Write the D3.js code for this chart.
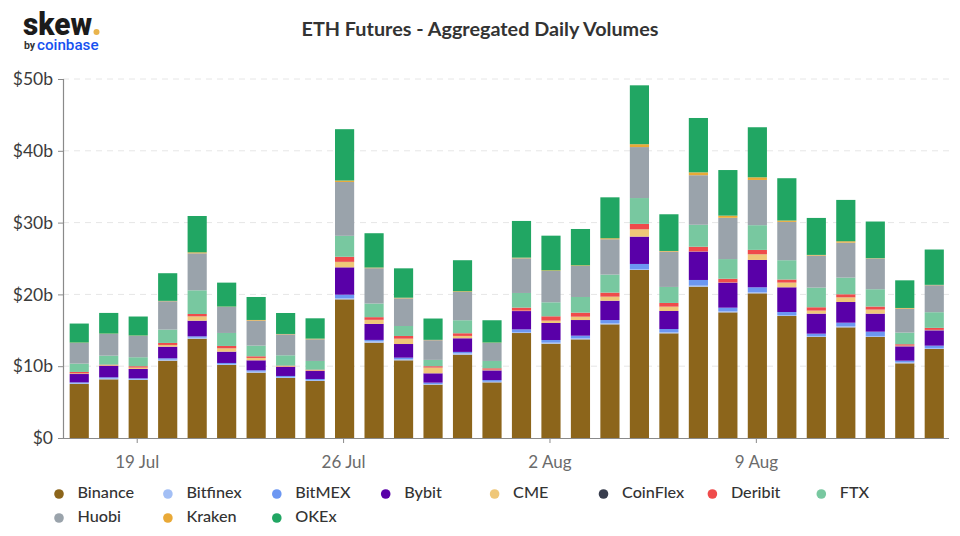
<!DOCTYPE html>
<html>
<head>
<meta charset="utf-8">
<script src="https://cdn.jsdelivr.net/npm/d3@7"></script>
<style>
  html, body { margin: 0; padding: 0; background: #fff; }
  svg { display: block; font-family: Lato, sans-serif; }
</style>
</head>
<body>
<div id="chart"></div>
<script>
// Daily volumes in $b, one entry per day from 17 Jul to 15 Aug
const binance = [7.52, 8.17, 8.08, 10.77, 13.83, 10.17, 9.1, 8.36, 7.94, 19.31, 13.28, 10.82, 7.43, 11.61, 7.75, 14.62, 13.14, 13.74, 15.83, 23.4, 14.58, 21.08, 17.5, 20.15, 16.99, 14.07, 15.41, 14.07, 10.4, 12.4]
const bitfinex = [0.09, 0.14, 0.09, 0.14, 0.14, 0.14, 0.14, 0.14, 0.14, 0.14, 0.19, 0.14, 0.09, 0.19, 0.09, 0.14, 0.14, 0.14, 0.14, 0.14, 0.14, 0.14, 0.14, 0.14, 0.14, 0.14, 0.14, 0.14, 0.14, 0.14]
const bitmex = [0.14, 0.14, 0.14, 0.19, 0.19, 0.14, 0.19, 0.14, 0.14, 0.51, 0.19, 0.23, 0.19, 0.19, 0.23, 0.37, 0.37, 0.37, 0.46, 0.7, 0.46, 0.79, 0.51, 0.7, 0.42, 0.32, 0.51, 0.6, 0.23, 0.32]
const bybit = [1.16, 1.58, 1.3, 1.62, 2.18, 1.58, 1.39, 1.25, 1.11, 3.81, 2.23, 1.9, 1.3, 1.9, 1.35, 2.55, 2.37, 2.18, 2.69, 3.81, 2.51, 3.95, 3.48, 3.81, 3.44, 2.79, 2.88, 2.51, 2.0, 2.14]
const cme = [0.09, 0.09, 0.19, 0.23, 0.6, 0.46, 0.32, 0.09, 0.09, 0.74, 0.56, 0.74, 0.79, 0.32, 0.09, 0.05, 0.32, 0.46, 0.56, 1.02, 0.6, 0.02, 0.03, 0.79, 0.65, 0.42, 0.65, 0.56, 0.09, 0.05]
const coinflex = [0.01, 0.01, 0.01, 0.01, 0.01, 0.01, 0.01, 0.01, 0.01, 0.03, 0.01, 0.01, 0.01, 0.01, 0.01, 0.01, 0.01, 0.01, 0.01, 0.01, 0.01, 0.01, 0.01, 0.01, 0.01, 0.01, 0.01, 0.01, 0.01, 0.01]
const deribit = [0.19, 0.09, 0.19, 0.28, 0.32, 0.32, 0.23, 0.09, 0.09, 0.7, 0.37, 0.37, 0.19, 0.37, 0.19, 0.42, 0.6, 0.56, 0.56, 0.74, 0.51, 0.65, 0.51, 0.6, 0.42, 0.46, 0.42, 0.42, 0.19, 0.28]
const ftx = [1.16, 1.25, 1.25, 1.86, 3.3, 1.81, 1.49, 1.44, 1.21, 2.92, 1.9, 1.39, 0.88, 1.81, 1.02, 2.04, 1.95, 2.18, 2.51, 3.6, 2.23, 3.06, 2.74, 3.44, 2.69, 2.74, 2.32, 2.41, 1.62, 2.18]
const huobi = [2.88, 3.02, 2.97, 3.95, 5.15, 3.62, 3.48, 2.92, 3.02, 7.5, 4.92, 3.85, 2.74, 3.95, 2.51, 4.83, 4.36, 4.32, 4.92, 7.1, 4.92, 6.9, 5.75, 6.3, 5.34, 4.46, 4.87, 4.27, 3.34, 3.76]
const kraken = [0.05, 0.05, 0.05, 0.05, 0.14, 0.05, 0.09, 0.05, 0.09, 0.2, 0.09, 0.09, 0.05, 0.09, 0.05, 0.09, 0.09, 0.09, 0.14, 0.4, 0.09, 0.4, 0.3, 0.37, 0.19, 0.09, 0.19, 0.05, 0.09, 0.05]
const okex = [2.65, 2.88, 2.65, 3.85, 5.06, 3.34, 3.2, 2.92, 2.83, 7.15, 4.78, 4.09, 2.97, 4.32, 3.11, 5.11, 4.83, 5.06, 5.7, 8.2, 5.11, 7.57, 6.35, 6.97, 5.89, 5.15, 5.76, 5.11, 3.85, 4.92]

const exchanges = ["Binance", "Bitfinex", "BitMEX", "Bybit", "CME", "CoinFlex", "Deribit", "FTX", "Huobi", "Kraken", "OKEx"]
const volumes = [binance, bitfinex, bitmex, bybit, cme, coinflex, deribit, ftx, huobi, kraken, okex]
const colors = ["#8c651b", "#a3bff5", "#6c97f2", "#5900a8", "#efc778", "#383d4d", "#ef4b4b", "#78c8a0", "#9aa3ab", "#e9a937", "#21a663"]
const yTicks = [0, 10, 20, 30, 40, 50]
const xTicks = ["19 Jul", "26 Jul", "2 Aug", "9 Aug"]

const width = 960
const height = 536

const svg = d3.select("#chart").append("svg").attr("width", width).attr("height", height)

// One row per day for d3.stack
const parseDay = d3.utcParse("%d %b %Y")
const formatDay = d3.utcFormat("%-d %b")
const days = d3.utcDay.range(parseDay("17 Jul 2021"), parseDay("16 Aug 2021"))
const rows = days.map((day, i) => {
  const row = { day: day }
  exchanges.forEach((name, j) => (row[name] = volumes[j][i]))
  return row
})
const stacked = d3.stack().keys(exchanges)(rows)

const x = d3.scaleBand().domain(days).range([64.5, 949]).paddingInner(0.35).paddingOuter(0.175)
const y = d3.scaleLinear().domain([0, 50]).range([438, 79])
const color = d3.scaleOrdinal().domain(exchanges).range(colors)

// Gridlines
svg
  .append("g")
  .selectAll("line")
  .data(yTicks.filter((d) => d > 0))
  .enter()
  .append("line")
  .attr("x1", 63)
  .attr("x2", 949)
  .attr("y1", (d) => y(d))
  .attr("y2", (d) => y(d))
  .attr("stroke", "#e6e6e6")
  .attr("stroke-dasharray", "6 5")

// Stacked bars
svg
  .append("g")
  .selectAll("g")
  .data(stacked)
  .enter()
  .append("g")
  .attr("fill", (d) => color(d.key))
  .selectAll("rect")
  .data((d) => d)
  .enter()
  .append("rect")
  .attr("x", (d) => x(d.data.day))
  .attr("width", x.bandwidth())
  .attr("y", (d) => y(d[1]))
  .attr("height", (d) => y(d[0]) - y(d[1]))

// Y axis
const yAxis = svg
  .append("g")
  .attr("transform", "translate(63,0)")
  .call(
    d3
      .axisLeft(y)
      .tickValues(yTicks)
      .tickSize(5)
      .tickPadding(5)
      .tickFormat((d) => `$${d}${d > 0 ? "b" : ""}`),
  )
yAxis.select(".domain").attr("stroke", "#8a8a8a").attr("stroke-width", 1.2)
yAxis.selectAll(".tick line").attr("stroke", "#8a8a8a")
yAxis.selectAll("text").attr("font-size", 17.5).attr("font-family", "Lato").attr("fill", "#3b3b3b")

// X axis, date ticks sit a little left of the bar centres
const xPos = d3
  .scaleOrdinal()
  .domain(days.map(formatDay))
  .range(days.map((d) => x(d) + x.bandwidth() / 2 - 1.5))
const xAxis = svg
  .append("g")
  .attr("transform", "translate(0,438)")
  .call(d3.axisBottom(xPos).tickValues(xTicks).tickSize(5).tickPadding(13))
xAxis.select(".domain").attr("d", "M63,0.5H949").attr("stroke", "#8a8a8a").attr("stroke-width", 1.2)
xAxis.selectAll(".tick line").attr("stroke", "#8a8a8a")
xAxis.selectAll("text").attr("font-size", 17).attr("font-family", "Lato").attr("fill", "#6b6b6b")

// Title
svg
  .append("text")
  .attr("x", 480)
  .attr("y", 35.5)
  .attr("text-anchor", "middle")
  .attr("font-size", 19.8)
  .attr("font-weight", 700)
  .attr("fill", "#333")
  .text("ETH Futures - Aggregated Daily Volumes")

// Logo
const logo = svg.append("g")
logo
  .append("text")
  .attr("x", 23)
  .attr("y", 34.5)
  .attr("font-size", 32)
  .attr("font-weight", 900)
  .attr("fill", "#1b1b1b")
  .attr("font-family", "Roboto, sans-serif")
  .attr("textLength", 69)
  .attr("lengthAdjust", "spacingAndGlyphs")
  .text("skew")
logo.append("circle").attr("cx", 96.5).attr("cy", 32).attr("r", 3).attr("fill", "#e9b44c")
logo
  .append("text")
  .attr("x", 24)
  .attr("y", 49)
  .attr("font-size", 10.5)
  .attr("font-weight", 700)
  .attr("fill", "#333")
  .attr("font-family", "Roboto, sans-serif")
  .text("by")
logo
  .append("text")
  .attr("x", 37)
  .attr("y", 49.5)
  .attr("font-size", 15.2)
  .attr("font-weight", 500)
  .attr("fill", "#1652f0")
  .attr("font-family", "Roboto, sans-serif")
  .text("coinbase")

// Legend, 8 columns wide then wrapping
const legend = svg
  .append("g")
  .selectAll("g")
  .data(exchanges)
  .enter()
  .append("g")
  .attr("transform", (d, i) => `translate(${59 + (i % 8) * 108.9},${494 + Math.floor(i / 8) * 24})`)
legend.append("circle").attr("r", 4.8).attr("fill", (d) => color(d))
legend
  .append("text")
  .attr("x", 18.5)
  .attr("y", 3.5)
  .attr("font-size", 16.2)
  .attr("font-weight", 500)
  .attr("fill", "#333")
  .text((d) => d)
</script>
</body>
</html>
